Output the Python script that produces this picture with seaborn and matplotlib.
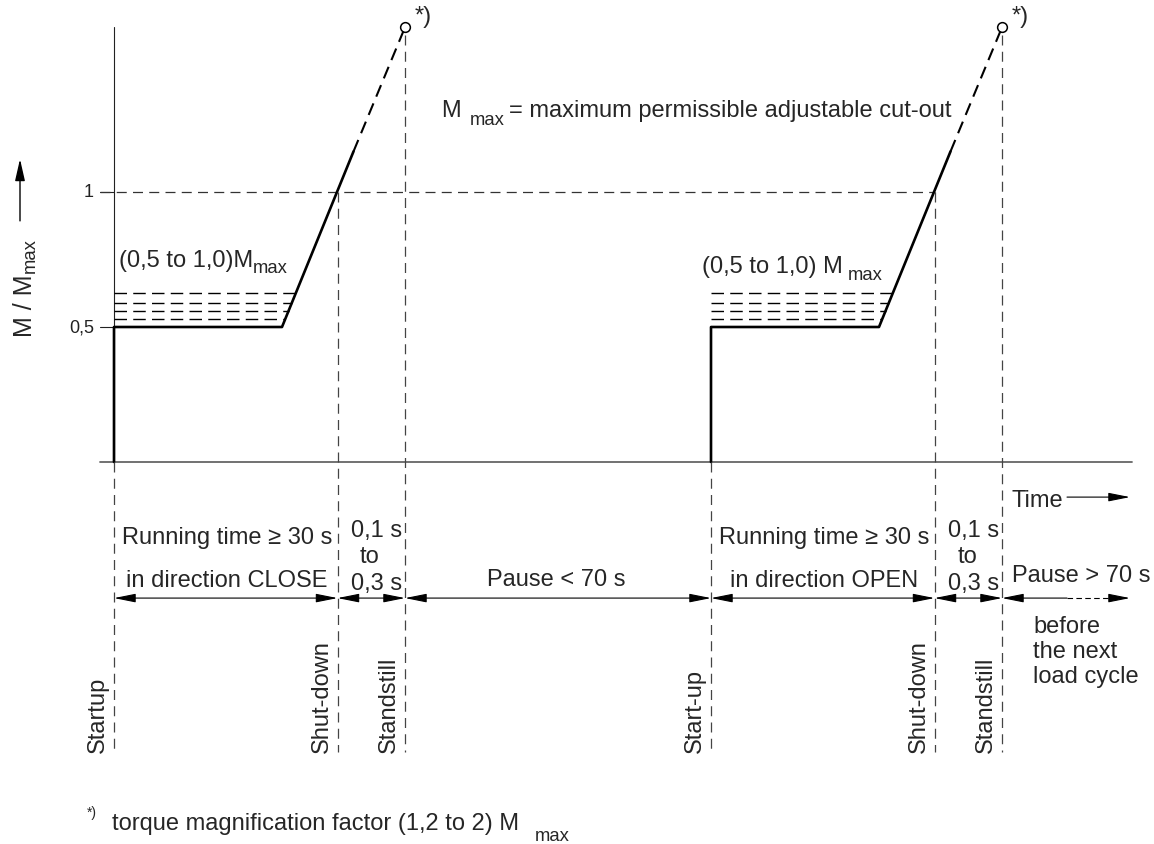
import numpy as np
import pandas as pd
import matplotlib
matplotlib.use('Agg')
import matplotlib.pyplot as plt
import seaborn as sns

sns.set_theme(style='white')
plt.rcParams['font.family'] = ['Liberation Sans', 'DejaVu Sans']

# schematic time axis (arbitrary units), torque in M / M_max
cycle_start = [0.0, 59.7]        # start-up of CLOSE and OPEN run
t_plateau_end = 16.8             # end of the 0,5 plateau (after start-up)
t_shutdown = 22.35               # ramp reaches 1,0 -> shut-down
t_solid_end = 23.95              # solid ramp ends here
t_standstill = 29.1              # peak / standstill
t_end = 101.6                    # end of time arrow

m_start = 0.5
m_cutout = 1.0
m_solid_end = 1.15
m_peak = 1.61

# dashed plateau levels (0,5 to 1,0) M_max and where they meet the ramp
plateau_levels = [0.53, 0.56, 0.59, 0.625]
plateau_level_end = [17.13, 17.47, 17.8, 18.19]

ytick_vals = [0.5, 1.0]
ytick_labels = ['0,5', '1']

event_labels = ['Startup', 'Shut-down', 'Standstill', 'Start-up', 'Shut-down', 'Standstill']
run_labels = [('Running time \u2265 30 s', 'in direction CLOSE'),
              ('Running time \u2265 30 s', 'in direction OPEN')]

y_dim = -0.504      # level of the dimension arrows
y_dash_bottom = -1.074

FS = 17
SUB_FS = 13.3
dash_col = '#333333'
guide_col = '#444444'

fig = plt.figure(figsize=(11.54, 8.45), dpi=100)
ax = fig.add_axes([0, 0, 1, 1])
ax.set_xlim(-11.4, 104.0)
ax.set_ylim(-1.4148, 1.7148)
ax.axis('off')
renderer = fig.canvas.get_renderer()
to_data = ax.transData.inverted()


def text_sub(x, y, head, tail='', gap=(0, 0), drop=6):
    # text followed by a lowered "max" and optional trailing text
    t = ax.text(x, y, head, ha='left', va='baseline', fontsize=FS)
    bb = t.get_window_extent(renderer)
    x0, y0 = ax.transData.transform((x, y))
    sx, sy = to_data.transform((bb.x1 + gap[0], y0 - drop))
    s = ax.text(sx, sy, 'max', ha='left', va='baseline', fontsize=SUB_FS)
    if tail:
        bb2 = s.get_window_extent(renderer)
        tx, _ = to_data.transform((bb2.x1 + gap[1], y0))
        ax.text(tx, y, tail, ha='left', va='baseline', fontsize=FS)


# axes of the diagram
ax.plot([0, 0], [0, m_peak], color='#222222', lw=0.8)
ax.plot([-1.4, 101.8], [0, 0], color='#666666', lw=1.3)
for v, lab in zip(ytick_vals, ytick_labels):
    ax.plot([-1.4, 0], [v, v], color='#222222', lw=0.8)
    ax.text(-2.0, v, lab, ha='right', va='center', fontsize=13, color='#222222')

# dashed reference line at M = M_max
ax.plot([-1.4, cycle_start[1] + t_shutdown], [m_cutout, m_cutout],
        color=dash_col, lw=0.9, dashes=(8, 5))

for i, t0 in enumerate(cycle_start):
    # torque profile
    prof = pd.DataFrame({'t': [t0, t0, t0 + t_plateau_end, t0 + t_solid_end],
                         'm': [0.0, m_start, m_start, m_solid_end]})
    sns.lineplot(data=prof, x='t', y='m', sort=False, estimator=None,
                 color='black', lw=1.9, ax=ax)
    ax.plot([t0 + t_solid_end, t0 + t_standstill], [m_solid_end, m_peak],
            color='black', lw=1.5, dashes=(6, 3.5))
    ax.plot([t0 + t_standstill], [m_peak], 'o', ms=7, mfc='white', mec='black',
            mew=1.1, zorder=5)
    ax.text(t0 + 30.1, m_peak + 0.02, '*)', ha='left', va='baseline', fontsize=FS)

    # possible plateau levels
    for lvl, xe in zip(plateau_levels, plateau_level_end):
        ax.plot([t0, t0 + xe], [lvl, lvl], color='black', lw=1.0, dashes=(9, 4.5))

    # vertical guide lines
    ax.plot([t0, t0], [0, y_dash_bottom], color=guide_col, lw=0.9, dashes=(8, 5))
    ax.plot([t0 + t_shutdown] * 2, [m_cutout, y_dash_bottom], color=guide_col, lw=0.9, dashes=(8, 5))
    ax.plot([t0 + t_standstill] * 2, [m_peak - 0.03, y_dash_bottom], color=guide_col, lw=0.9, dashes=(8, 5))

    # event labels (rotated)
    for j, te in enumerate([t0, t0 + t_shutdown, t0 + t_standstill]):
        ax.text(te - 0.5, y_dash_bottom, event_labels[3 * i + j], rotation=90,
                ha='right', va='bottom', fontsize=FS)

    # texts between the guide lines
    ax.text(t0 + 11.3, -0.30, run_labels[i][0], ha='center', va='baseline', fontsize=FS)
    ax.text(t0 + 11.3, -0.46, run_labels[i][1], ha='center', va='baseline', fontsize=FS)
    ax.text(t0 + 26.3, -0.274, '0,1 s', ha='center', va='baseline', fontsize=FS)
    ax.text(t0 + 25.6, -0.370, 'to', ha='center', va='baseline', fontsize=FS)
    ax.text(t0 + 26.3, -0.470, '0,3 s', ha='center', va='baseline', fontsize=FS)

# dimension arrows
bounds = [cycle_start[0], cycle_start[0] + t_shutdown, cycle_start[0] + t_standstill,
          cycle_start[1], cycle_start[1] + t_shutdown, cycle_start[1] + t_standstill]
dim_style = '<|-|>,head_length=1.1,head_width=0.22'
for x0, x1 in zip(bounds[:-1], bounds[1:]):
    ax.annotate('', xy=(x1, y_dim), xytext=(x0, y_dim),
                arrowprops=dict(arrowstyle=dim_style, color='black', lw=0.8,
                                shrinkA=0, shrinkB=0))
ax.annotate('', xy=(bounds[-1], y_dim), xytext=(95.3, y_dim),
            arrowprops=dict(arrowstyle='-|>,head_length=1.1,head_width=0.22', color='black',
                            lw=0.8, shrinkA=0, shrinkB=0))
ax.plot([95.3, 100.0], [y_dim, y_dim], color='black', lw=0.8, dashes=(5, 3))
ax.annotate('', xy=(t_end, y_dim), xytext=(99.9, y_dim),
            arrowprops=dict(arrowstyle='-|>,head_length=1.1,head_width=0.22', color='black',
                            lw=0.8, shrinkA=0, shrinkB=0))

ax.text(44.2, -0.456, 'Pause < 70 s', ha='center', va='baseline', fontsize=FS)
ax.text(89.8, -0.44, 'Pause > 70 s', ha='left', va='baseline', fontsize=FS)
ax.text(91.9, -0.63, 'before', ha='left', va='baseline', fontsize=FS)
ax.text(91.9, -0.722, 'the next', ha='left', va='baseline', fontsize=FS)
ax.text(91.9, -0.815, 'load cycle', ha='left', va='baseline', fontsize=FS)

# time arrow
ax.text(89.8, -0.163, 'Time', ha='left', va='baseline', fontsize=FS)
ax.annotate('', xy=(t_end, -0.13), xytext=(95.3, -0.13),
            arrowprops=dict(arrowstyle='-|>,head_length=1.1,head_width=0.22', color='black',
                            lw=0.8, shrinkA=0, shrinkB=0))

# y label with arrow
yl = ax.text(-7.7, 0.467, 'M / M', rotation=90, ha='right', va='bottom', fontsize=18)
yb = yl.get_window_extent(renderer)
_, ysub = to_data.transform((0, yb.y1 + 1))
ax.text(-7.55, ysub, 'max', rotation=90, ha='right', va='bottom', fontsize=SUB_FS)
ax.annotate('', xy=(-9.4, 1.122), xytext=(-9.4, 0.893),
            arrowprops=dict(arrowstyle='-|>,head_length=1.1,head_width=0.25', color='black',
                            lw=1.0, shrinkA=0, shrinkB=0))

# annotations
text_sub(0.5, 0.726, '(0,5 to 1,0)M', gap=(0, 0), drop=6)
text_sub(58.8, 0.703, '(0,5 to 1,0) M', gap=(5, 0), drop=7)
text_sub(32.7, 1.281, 'M', tail='= maximum permissible adjustable cut-out', gap=(9, 4), drop=8)

# footnote
ax.text(-2.7, -1.272, '*)', ha='left', va='top', fontsize=10)
text_sub(-0.2, -1.359, 'torque magnification factor (1,2 to 2) M', gap=(16, 0), drop=11)

fig.savefig('out.png', dpi=100)
